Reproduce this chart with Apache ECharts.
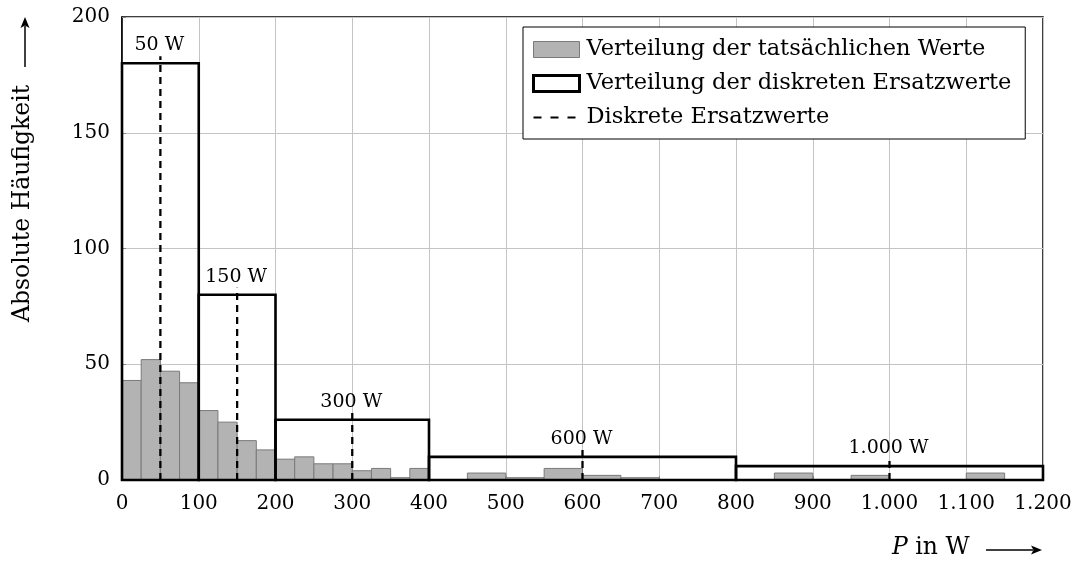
<!DOCTYPE html>
<html>
<head>
<meta charset="utf-8">
<script src="https://cdn.jsdelivr.net/npm/echarts@6/dist/echarts.min.js"></script>
<style>
  html, body { margin: 0; padding: 0; background: #fff; }
  #chart { width: 1076px; height: 563px; }
</style>
</head>
<body>
<div id="chart"></div>
<script>
// Measured power values: histogram bin edges (W) and absolute counts
const actualEdges = [0, 25, 50, 75, 100, 125, 150, 175, 200, 225, 250, 275, 300, 325, 350, 375, 400,
                     450, 500, 550, 600, 650, 700, 750, 800, 850, 900, 950, 1000, 1050, 1100, 1150, 1200];
const actualCounts = [43, 52, 47, 42, 30, 25, 17, 13, 9, 10, 7, 7, 4, 5, 1, 5,
                      0, 3, 1, 5, 2, 1, 0, 0, 0, 3, 0, 2, 0, 0, 3, 0];

// Discrete substitute values: class edges (W), counts per class, representative value
const discreteEdges = [0, 100, 200, 400, 800, 1200];
const discreteCounts = [180, 80, 26, 10, 6];
const discreteValues = [50, 150, 300, 600, 1000];
const discreteLabels = ['50 W', '150 W', '300 W', '600 W', '1.000 W'];

// Axis ticks
const xMin = 0, xMax = 1200, xStep = 100;
const yMin = 0, yMax = 200, yStep = 50;

const seriesNames = [
  'Verteilung der tatsächlichen Werte',
  'Verteilung der diskreten Ersatzwerte',
  'Diskrete Ersatzwerte'
];

const FONT = '"DejaVu Serif", "Liberation Serif", serif';

// German thousands separator for tick labels
function deNumber(v) {
  return String(Math.round(v)).replace(/\B(?=(\d{3})+(?!\d))/g, '.');
}

const actualData = actualCounts.map((c, i) => [actualEdges[i], actualEdges[i + 1], c]);
const discreteData = discreteCounts.map((c, i) => [discreteEdges[i], discreteEdges[i + 1], c]);

// Vertical dashed lines at the representative values, reaching a little above each class box
const dashedData = [];
discreteValues.forEach((v, i) => {
  if (i > 0) dashedData.push('-');
  dashedData.push([v, 0]);
  dashedData.push([v, discreteCounts[i] + 3]);
});
const labelData = discreteValues.map((v, i) => [v, discreteCounts[i], discreteLabels[i]]);

function binRenderer(fill, stroke, lw) {
  return function (params, api) {
    const h = api.value(2);
    if (!h) return null;
    const p0 = api.coord([api.value(0), h]);
    const p1 = api.coord([api.value(1), 0]);
    return {
      type: 'rect',
      shape: { x: p0[0], y: p0[1], width: p1[0] - p0[0], height: p1[1] - p0[1] },
      style: { fill: fill, stroke: stroke, lineWidth: lw }
    };
  };
}

const chart = echarts.init(document.getElementById('chart'), null, { renderer: 'canvas' });

chart.setOption({
  animation: false,
  backgroundColor: '#fff',
  textStyle: { fontFamily: FONT },
  grid: {
    left: 122, right: 33, top: 17, bottom: 83,
    show: true, borderColor: '#000', borderWidth: 1.5, backgroundColor: 'transparent'
  },
  xAxis: {
    type: 'value', min: xMin, max: xMax, interval: xStep,
    axisLine: { show: true, onZero: false, lineStyle: { color: '#000', width: 1.5 } },
    axisTick: { show: true, inside: true, length: 4, lineStyle: { color: '#888' } },
    splitLine: { show: true, lineStyle: { color: '#c4c4c4', width: 1 } },
    axisLabel: { color: '#000', fontFamily: FONT, fontSize: 20, margin: 14, formatter: deNumber }
  },
  yAxis: {
    type: 'value', min: yMin, max: yMax, interval: yStep,
    axisLine: { show: true, lineStyle: { color: '#000', width: 1.5 } },
    axisTick: { show: true, inside: true, length: 4, lineStyle: { color: '#888' } },
    splitLine: { show: true, lineStyle: { color: '#c4c4c4', width: 1 } },
    axisLabel: { color: '#000', fontFamily: FONT, fontSize: 20, margin: 12, formatter: deNumber }
  },
  legend: {
    left: 523, top: 27,
    orient: 'vertical',
    backgroundColor: '#fff',
    borderColor: '#000', borderWidth: 1, borderRadius: 0,
    padding: [11, 14, 10, 9],
    itemGap: 11,
    itemWidth: 46, itemHeight: 16,
    selectedMode: false,
    textStyle: { color: '#000', fontFamily: FONT, fontSize: 22.5, padding: [0, 0, 0, 2] },
    data: [
      { name: seriesNames[0], icon: 'rect',
        itemStyle: { color: '#b3b3b3', borderColor: '#7a7a7a', borderWidth: 1 } },
      { name: seriesNames[1], icon: 'rect',
        itemStyle: { color: '#fff', borderColor: '#000', borderWidth: 3 } },
      { name: seriesNames[2],
        itemStyle: { opacity: 0 },
        lineStyle: { color: '#000', width: 2.2, type: [8, 9] } }
    ]
  },
  series: [
    {
      name: seriesNames[0],
      type: 'custom',
      renderItem: binRenderer('#b3b3b3', '#7a7a7a', 1),
      itemStyle: { color: '#b3b3b3', borderColor: '#7a7a7a', borderWidth: 1 },
      encode: { x: [0, 1], y: 2 },
      data: actualData,
      z: 2
    },
    {
      name: seriesNames[1],
      type: 'custom',
      renderItem: binRenderer('none', '#000', 2.6),
      itemStyle: { color: '#fff', borderColor: '#000', borderWidth: 2.6 },
      encode: { x: [0, 1], y: 2 },
      data: discreteData,
      z: 3
    },
    {
      name: seriesNames[2],
      type: 'line',
      data: dashedData,
      symbol: 'none',
      connectNulls: false,
      lineStyle: { color: '#000', width: 2.3, type: [7, 5] },
      itemStyle: { color: '#000' },
      z: 4
    },
    {
      name: 'Ersatzwert-Beschriftung',
      type: 'custom',
      encode: { x: 0, y: 1 },
      data: labelData,
      renderItem: function (params, api) {
        const p = api.coord([api.value(0), api.value(1)]);
        return {
          type: 'text',
          x: p[0] - 1, y: p[1] - 18,
          style: {
            text: labelData[params.dataIndex][2],
            fill: '#000',
            font: '19px ' + FONT,
            align: 'center',
            verticalAlign: 'middle'
          }
        };
      },
      z: 5
    }
  ],
  graphic: [
    // y-axis title with arrow
    {
      type: 'text',
      x: 23, y: 322,
      rotation: Math.PI / 2,
      style: {
        text: 'Absolute Häufigkeit',
        fill: '#000', font: '23.5px ' + FONT,
        align: 'left', verticalAlign: 'middle'
      }
    },
    { type: 'line', shape: { x1: 25, y1: 67, x2: 25, y2: 26 }, style: { stroke: '#000', lineWidth: 1.5 } },
    { type: 'polygon', shape: { points: [[25, 17], [20.5, 28], [25, 25.5], [29.5, 28]] }, style: { fill: '#000' } },
    // x-axis title with arrow
    {
      type: 'text',
      x: 892, y: 548,
      style: {
        text: '{i|P} in W',
        fill: '#000', font: '23.5px ' + FONT,
        align: 'left', verticalAlign: 'middle',
        rich: { i: { fontStyle: 'italic', fontFamily: FONT, fontSize: 23.5, fill: '#000' } }
      }
    },
    { type: 'line', shape: { x1: 986, y1: 550, x2: 1033, y2: 550 }, style: { stroke: '#000', lineWidth: 1.5 } },
    { type: 'polygon', shape: { points: [[1042, 550], [1031, 545.5], [1033.5, 550], [1031, 554.5]] }, style: { fill: '#000' } }
  ]
});
</script>
</body>
</html>
